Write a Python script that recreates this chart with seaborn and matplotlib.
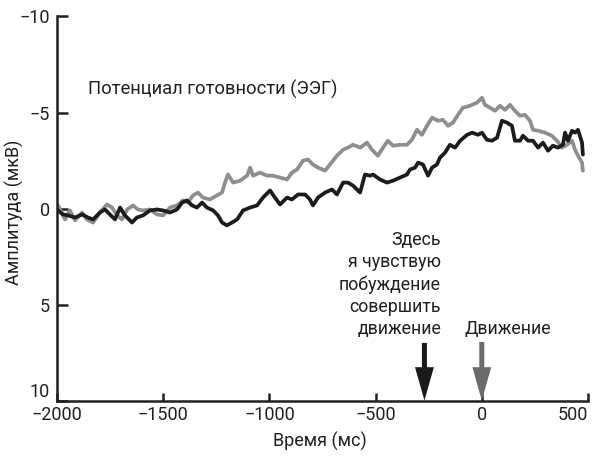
import matplotlib
matplotlib.use("Agg")
import matplotlib.pyplot as plt
import seaborn as sns
import pandas as pd

# Readiness potential, two averaged EEG traces (time in ms, amplitude in uV)
gray_time = [-1995, -1962, -1939, -1915, -1882, -1859, -1830, -1798, -1765, -1741,
             -1717, -1694, -1670, -1642, -1619, -1595, -1562, -1529, -1501, -1468,
             -1435, -1407, -1383, -1360, -1336, -1313, -1280, -1247, -1223, -1209,
             -1195, -1171, -1138, -1105, -1091, -1077, -1044, -1011, -983, -950,
             -917, -894, -870, -842, -818, -795, -771, -738, -715, -682,
             -653, -630, -606, -573, -540, -517, -489, -465, -442, -418,
             -385, -352, -329, -305, -282, -258, -234, -206, -183, -159,
             -136, -112, -89, -56, -23, 1, 15, 39, 62, 86,
             109, 133, 156, 180, 203, 227, 241, 265, 298, 330,
             354, 378, 401, 425, 439, 453, 472, 476]
gray_amp = [-0.16, 0.57, 0.10, 0.62, 0.21, 0.57, 0.73, 0.21, -0.21, -0.05,
            0.36, 0.57, 0.05, -0.16, 0.05, 0.10, 0.05, 0.31, 0.36, -0.05,
            -0.16, -0.42, -0.31, -0.68, -0.83, -0.57, -0.47, -0.68, -0.83, -1.35,
            -1.77, -1.35, -1.45, -1.71, -2.13, -1.71, -1.87, -1.71, -1.71, -1.61,
            -1.51, -1.87, -2.03, -2.49, -2.55, -2.29, -2.13, -1.97, -2.29, -2.75,
            -3.06, -3.17, -3.32, -3.17, -3.43, -3.06, -2.75, -3.17, -3.53, -3.27,
            -3.32, -3.32, -3.58, -4.10, -3.84, -4.31, -4.73, -4.57, -4.62, -4.31,
            -4.47, -4.88, -5.25, -5.35, -5.51, -5.77, -5.40, -5.25, -5.09, -5.35,
            -5.14, -5.40, -5.09, -4.83, -4.88, -4.57, -4.10, -4.05, -3.95, -3.79,
            -3.53, -3.17, -3.32, -3.53, -3.06, -2.75, -2.39, -1.97]

black_time = [-1995, -1972, -1948, -1915, -1882, -1854, -1830, -1798, -1774, -1751,
              -1727, -1703, -1680, -1647, -1624, -1595, -1562, -1529, -1501, -1468,
              -1435, -1411, -1388, -1364, -1341, -1317, -1294, -1265, -1242, -1223,
              -1200, -1176, -1152, -1124, -1091, -1058, -1030, -997, -974, -950,
              -917, -894, -865, -832, -809, -795, -771, -738, -705, -682,
              -653, -630, -606, -573, -550, -526, -512, -479, -446, -418,
              -385, -352, -338, -314, -300, -277, -253, -234, -211, -197,
              -173, -150, -126, -102, -69, -46, -18, 1, 24, 48,
              72, 95, 119, 142, 156, 180, 194, 218, 241, 265,
              288, 312, 335, 359, 382, 392, 406, 425, 439, 453,
              472, 476]
black_amp = [0.10, 0.31, 0.36, 0.47, 0.31, 0.47, 0.57, 0.21, 0.05, 0.31,
             0.57, -0.05, 0.36, 0.73, 0.47, 0.36, 0.10, 0.05, 0.10, 0.21,
             0.05, -0.31, -0.42, -0.16, -0.05, -0.31, -0.05, 0.10, 0.36, 0.73,
             0.88, 0.73, 0.57, 0.10, -0.05, -0.16, -0.57, -0.94, -0.57, -0.21,
             -0.57, -0.47, -0.73, -0.73, -0.47, -0.16, -0.57, -0.83, -0.99, -0.73,
             -1.35, -1.35, -1.19, -0.83, -1.77, -1.71, -1.77, -1.51, -1.35, -1.45,
             -1.61, -1.77, -2.03, -2.13, -2.39, -2.29, -1.71, -2.13, -2.29, -2.65,
             -2.91, -3.32, -3.17, -3.53, -3.84, -3.95, -3.84, -3.95, -3.58, -3.53,
             -3.69, -4.57, -4.47, -4.31, -3.53, -3.53, -3.79, -3.53, -3.53, -3.17,
             -3.43, -3.01, -3.27, -3.17, -3.32, -3.95, -3.53, -4.05, -3.95, -4.10,
             -3.43, -2.81]

x_ticks = [-2000, -1500, -1000, -500, 0, 500]
y_ticks = [-10, -5, 0, 5, 10]

urge_time = -270   # "I feel the urge to move"
move_time = 0      # actual movement

title_text = "Потенциал готовности (ЭЭГ)"
urge_text = "Здесь\nя чувствую\nпобуждение\nсовершить\nдвижение"
move_text = "Движение"

sns.set_theme(style="ticks")
plt.rcParams['font.family'] = ['Roboto', 'DejaVu Sans']

ink = '#231f20'

fig = plt.figure(figsize=(5.95, 4.57), dpi=100)
ax = fig.add_axes([0.0958, 0.1236, 0.8924, 0.8403])

gray = pd.DataFrame({'t': gray_time, 'amp': gray_amp})
black = pd.DataFrame({'t': black_time, 'amp': black_amp})
sns.lineplot(data=gray, x='t', y='amp', color='#8e8e8e', linewidth=2.7,
             estimator=None, sort=False, ax=ax)
sns.lineplot(data=black, x='t', y='amp', color='#1c1c1c', linewidth=2.7,
             estimator=None, sort=False, ax=ax)

ax.set_xlim(-2000, 500)
ax.set_ylim(10, -10)
ax.set_xticks(x_ticks)
ax.set_yticks(y_ticks)
sns.despine(ax=ax)
for side in ['left', 'bottom']:
    ax.spines[side].set_linewidth(1.8)
    ax.spines[side].set_color(ink)
ax.tick_params(axis='y', direction='in', length=8, width=1.8, color=ink,
               labelsize=13, labelcolor=ink, pad=5)
ax.tick_params(axis='x', direction='in', length=6, width=1.8, color=ink,
               labelsize=13, labelcolor=ink, pad=4)
ax.get_yticklabels()[-1].set_va('bottom')
ax.get_xticklabels()[-1].set_ha('right')

ax.set_xlabel("Время (мс)", fontsize=13, color=ink, va='top')
ax.set_ylabel("Амплитуда (мкВ)", fontsize=13, color=ink)
ax.xaxis.set_label_coords(0.495, -0.082)
ax.yaxis.set_label_coords(-0.062, 0.49)

ax.text(-1855, -6.2, title_text, fontsize=13.2, color=ink, va='center', ha='left')
ax.text(-192, 6.75, urge_text, fontsize=12.8, color=ink, ha='right', va='bottom',
        multialignment='right', linespacing=1.3)
ax.text(123, 6.75, move_text, fontsize=12.8, color=ink, ha='center', va='bottom')

arrow = 'simple,head_width=0.68,head_length=1.2,tail_width=0.18'
ax.annotate('', xy=(urge_time, 10), xytext=(urge_time, 7.0),
            arrowprops=dict(arrowstyle=arrow, color='#1a1a1a', lw=0,
                            shrinkA=0, shrinkB=0, mutation_scale=20))
ax.annotate('', xy=(move_time, 10), xytext=(move_time, 6.95),
            arrowprops=dict(arrowstyle=arrow, color='#6b6b6b', lw=0,
                            shrinkA=0, shrinkB=0, mutation_scale=20))

fig.savefig("out.png", dpi=100)
